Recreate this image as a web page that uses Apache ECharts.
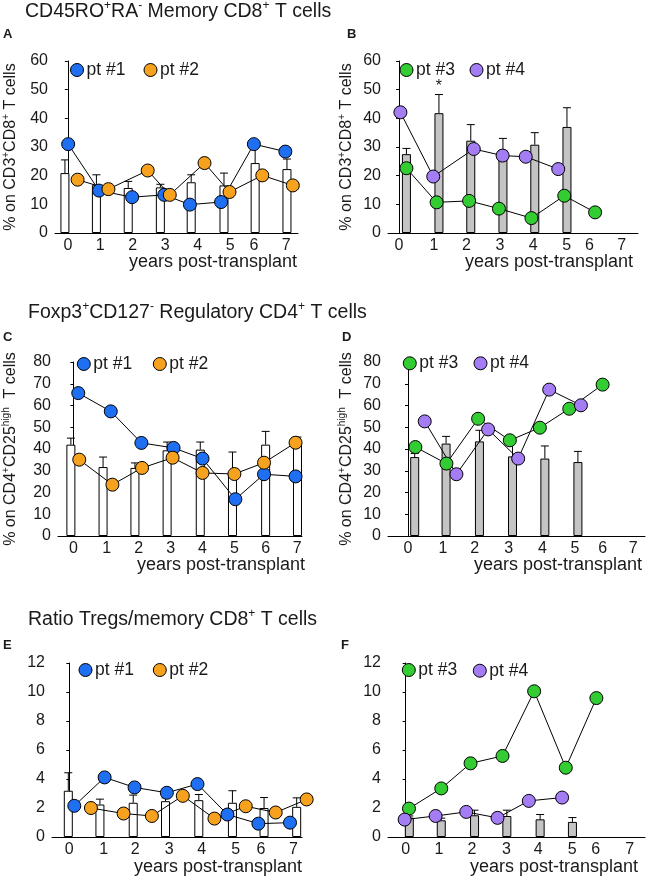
<!DOCTYPE html>
<html><head><meta charset="utf-8">
<script src="https://cdn.jsdelivr.net/npm/echarts@6/dist/echarts.min.js"></script>
<style>html,body{margin:0;padding:0;background:#fff}#c{width:649px;height:883px}</style>
</head><body><div id="c"></div>
<script>
const yearLabels = ['0','1','2','3','4','5','6','7'];
const legendNames = ['pt #1','pt #2','pt #3','pt #4'];

// Panel A
const aLabelPos = [0,1,2,3,4,5,5.73,6.73];
const aBarX = [-0.09,0.88,1.86,2.85,3.80,4.81,5.77,6.75];
const aBarMean = [20.9,16.8,15.7,15.9,17.7,16.6,24.4,22.3];
const aBarErr = [25.5,20.3,18,17,20.3,20.9,30,25.8];
const aPt1X = [0.01,0.96,1.98,2.97,3.76,4.72,5.73,6.70];
const aPt1Y = [31.0,14.8,12.5,13.3,9.9,10.8,31.0,28.4];
const aPt2X = [0.30,1.25,2.46,3.14,4.21,4.98,5.99,6.93];
const aPt2Y = [18.6,15.3,21.8,13.3,24.4,14.3,20.1,16.6];

// Panel B
const bLabelPos = [0,1.04,2.01,3.01,4.0,5,5.68,6.64];
const bBarX = [0.22,1.19,2.14,3.10,4.05,5.01];
const bBarMean = [27.5,41.8,32.2,29.0,30.8,37.0];
const bBarErr = [29.5,48.3,37.8,33.0,35.0,43.7];
const bPt3X = [0.22,1.12,2.09,2.98,3.95,4.93,5.85];
const bPt3Y = [22.6,10.7,11.2,8.5,5.2,13.0,7.2];
const bPt4X = [0.04,1.02,2.23,3.09,3.78,4.75];
const bPt4Y = [42.1,19.7,29.3,27.0,26.6,22.3];
const bStarX = [1.19];
const bStarY = [51];

// Panel C
const cLabelPos = [0,1.03,2.03,3.02,4.01,5,5.97,6.95];
const cBarX = [-0.08,0.92,1.91,2.91,3.94,4.94,5.97,6.96];
const cBarMean = [42,31.7,31.3,39.4,39.7,29.4,42,42];
const cBarErr = [45,36.3,33.6,43.2,43.2,38.6,48.1,45.5];
const cPt1X = [0.15,1.16,2.11,3.11,4.01,5.03,5.92,6.90];
const cPt1Y = [65.7,57.3,42.8,40.5,35.6,16.9,28.4,27.4];
const cPt2X = [0.18,1.21,2.13,3.08,4.01,5.0,5.92,6.90];
const cPt2Y = [35.1,23.6,31.3,36.0,29.0,28.5,33.7,42.9];

// Panel D
const dLabelPos = [0,1.05,2.0,3.02,4.03,5,5.83,6.75];
const dBarX = [0.20,1.14,2.14,3.13,4.10,5.09];
const dBarMean = [36.3,42.5,43.5,36.6,35.6,34.0];
const dBarErr = [37.9,45.8,48.6,44,41.4,38.9];
const dPt3X = [0.22,1.15,2.10,3.05,3.95,4.83,5.83];
const dPt3Y = [40.9,33.3,53.9,44.0,49.8,58.5,69.6];
const dPt4X = [0.50,1.45,2.40,3.30,4.23,5.18];
const dPt4Y = [52.7,28.4,49.0,35.6,67.3,60.1];

// Panel E
const eLabelPos = [0,1.03,1.98,3.0,3.98,5,5.76,6.73];
const eBarX = [-0.03,0.92,1.92,2.89,3.89,4.90,5.85,6.83];
const eBarMean = [3.19,2.24,2.36,2.47,2.54,2.36,2.0,2.08];
const eBarErr = [4.43,2.61,2.89,2.7,2.93,3.19,2.72,2.70];
const ePt1X = [0.15,1.06,1.96,2.93,3.85,4.75,5.68,6.63];
const ePt1Y = [2.15,4.11,3.42,3.05,3.65,1.55,0.92,0.99];
const ePt2X = [0.65,1.63,2.48,3.41,4.36,5.30,6.20,7.13];
const ePt2Y = [2.0,1.62,1.45,2.84,1.27,2.12,1.69,2.59];

// Panel F
const fLabelPos = [0,1.0,1.99,3.03,3.98,5,5.71,6.73];
const fBarX = [0.11,1.07,2.07,3.04,4.04,5.01];
const fBarMean = [1.34,1.15,1.5,1.45,1.22,1.04];
const fBarErr = [1.45,1.3,1.85,1.85,1.55,1.34];
const fPt3X = [0.10,1.07,1.95,2.91,3.86,4.81,5.73];
const fPt3Y = [1.96,3.35,5.08,5.59,10.05,4.78,9.58];
const fPt4X = [-0.03,0.90,1.82,2.76,3.70,4.70];
const fPt4Y = [1.2,1.45,1.73,1.32,2.49,2.72];

const FONT = "'Liberation Sans', Arial, sans-serif";
const TXT = '#1a1a1a';
const COL = {'pt #1':'#1f6ff2','pt #2':'#f6a21e','pt #3':'#33cc33','pt #4':'#a47cf4'};
const WHITE = '#ffffff', GRAY = '#c4c4c4';

const zip = (a,b) => a.map((v,i)=>[v,b[i]]);

const panels = [
  {grid:{left:52,top:61,width:246,height:172}, x:[-0.396,7.09], y:[0,60,10], labelPos:aLabelPos, fill:WHITE,
   barX:aBarX, mean:aBarMean, err:aBarErr, pts:[['pt #1',aPt1X,aPt1Y],['pt #2',aPt2X,aPt2Y]],
   yname:'{n|% on CD3}{s|+}{n|CD8}{s|+}{n| T cells}', nameGap:34,
   leg:[[76.5,70],[150,70]]},
  {grid:{left:388,top:61,width:250,height:172}, x:[-0.33,7.13], y:[0,60,10], labelPos:bLabelPos, fill:GRAY,
   barX:bBarX, mean:bBarMean, err:bBarErr, pts:[['pt #3',bPt3X,bPt3Y],['pt #4',bPt4X,bPt4Y]],
   yname:'{n|% on CD3}{s|+}{n|CD8}{s|+}{n| T cells}', nameGap:31,
   leg:[[406,70],[476,70]], star:true},
  {grid:{left:55,top:362,width:247,height:174}, x:[-0.48,7.10], y:[0,80,10], labelPos:cLabelPos, fill:WHITE,
   barX:cBarX, mean:cBarMean, err:cBarErr, pts:[['pt #1',cPt1X,cPt1Y],['pt #2',cPt2X,cPt2Y]],
   yname:'{n|% on CD4}{s|+}{n|CD25}{s|high}{n|  T cells}', nameGap:37,
   leg:[[83.3,364],[159.3,364]]},
  {grid:{left:388,top:362,width:257,height:174}, x:[-0.60,7.10], y:[0,80,10], labelPos:dLabelPos, fill:GRAY,
   barX:dBarX, mean:dBarMean, err:dBarErr, pts:[['pt #3',dPt3X,dPt3Y],['pt #4',dPt4X,dPt4Y]],
   yname:'{n|% on CD4}{s|+}{n|CD25}{s|high}{n|  T cells}', nameGap:31,
   leg:[[409.3,363.3],[480,363.3]]},
  {grid:{left:52,top:663,width:250,height:174}, x:[-0.52,6.99], y:[0,12,2], labelPos:eLabelPos, fill:WHITE,
   barX:eBarX, mean:eBarMean, err:eBarErr, pts:[['pt #1',ePt1X,ePt1Y],['pt #2',ePt2X,ePt2Y]],
   yname:'', nameGap:30,
   leg:[[85,670],[159.3,670]]},
  {grid:{left:388,top:663,width:257,height:174}, x:[-0.53,7.19], y:[0,12,2], labelPos:fLabelPos, fill:GRAY,
   barX:fBarX, mean:fBarMean, err:fBarErr, pts:[['pt #3',fPt3X,fPt3Y],['pt #4',fPt4X,fPt4Y]],
   yname:'', nameGap:30,
   leg:[[408.3,670],[479.3,670.7]]}
];

const supRich = {
  n:{fontSize:16, fontFamily:FONT, fontWeight:'normal', color:TXT, lineHeight:20},
  s:{fontSize:10, fontFamily:FONT, fontWeight:'normal', color:TXT, lineHeight:10, verticalAlign:'top'}
};

const grid=[], xAxis=[], yAxis=[], series=[], legend=[];
panels.forEach((p,i)=>{
  grid.push(Object.assign({containLabel:false}, p.grid));
  const pos = p.labelPos;
  xAxis.push({type:'value', gridIndex:i, min:p.x[0], max:p.x[1],
    axisLine:{show:true, onZero:false, lineStyle:{color:'#000', width:1}},
    axisTick:{show:false}, splitLine:{show:false},
    axisLabel:{show:true, customValues:pos, margin:5, fontSize:16, fontFamily:FONT, color:TXT,
      formatter:(v)=>{ let bi=0; pos.forEach((q,k)=>{ if(Math.abs(q-v)<Math.abs(pos[bi]-v)) bi=k; }); return yearLabels[bi]; }}
  });
  yAxis.push({type:'value', gridIndex:i, min:p.y[0], max:p.y[1], interval:p.y[2],
    axisLine:{show:true, lineStyle:{color:'#000', width:1}},
    axisTick:{show:true, length:3, lineStyle:{color:'#000'}}, splitLine:{show:false},
    axisLabel:{margin:7, fontSize:16, fontFamily:FONT, color:TXT},
    name:p.yname, nameLocation:'middle', nameRotate:90, nameGap:p.nameGap,
    nameTextStyle:{rich:supRich}
  });
  series.push({type:'bar', xAxisIndex:i, yAxisIndex:i, data:zip(p.barX,p.mean), barWidth:9, z:1, silent:true,
    itemStyle:{color:p.fill, borderColor:'#000', borderWidth:1}});
  series.push({type:'custom', xAxisIndex:i, yAxisIndex:i, z:2, silent:true,
    encode:{x:0, y:[1,2]},
    data:p.barX.map((x,k)=>[x,p.mean[k],p.err[k]]),
    renderItem:(params,api)=>{
      const a=api.coord([api.value(0),api.value(1)]), b=api.coord([api.value(0),api.value(2)]);
      return {type:'group', children:[
        {type:'line', shape:{x1:a[0],y1:a[1],x2:b[0],y2:b[1]}, style:{stroke:'#000',lineWidth:1}},
        {type:'line', shape:{x1:b[0]-4,y1:b[1],x2:b[0]+4,y2:b[1]}, style:{stroke:'#000',lineWidth:1}}
      ]};
    }});
  p.pts.forEach(([name,xs,ys])=>{
    series.push({type:'line', name, xAxisIndex:i, yAxisIndex:i, data:zip(xs,ys), z:3, silent:true,
      symbol:'circle', symbolSize:13, clip:false,
      lineStyle:{color:'#000', width:1},
      itemStyle:{color:COL[name], borderColor:'#000', borderWidth:1}});
  });
  if(p.star){
    series.push({type:'custom', xAxisIndex:i, yAxisIndex:i, z:4, silent:true,
      data:zip(bStarX,bStarY),
      renderItem:(params,api)=>{
        const c=api.coord([api.value(0),api.value(1)]);
        return {type:'text', x:c[0], y:c[1], style:{text:'*', fontSize:16, fontFamily:FONT, fill:TXT, align:'center', verticalAlign:'middle'}};
      }});
  }
  p.pts.forEach(([name],k)=>{
    const c=p.leg[k];
    legend.push({data:[name], left:c[0]-6.5, top:c[1]-9, padding:0, icon:'circle', itemWidth:13, itemHeight:13,
      selectedMode:false, textStyle:{fontSize:17.5, fontFamily:FONT, color:TXT, padding:[0,0,0,-2]},
      itemStyle:{borderColor:'#000', borderWidth:1}});
  });
});

const titleRich = {
  n:{fontSize:19.5, fontFamily:FONT, fontWeight:'normal', color:TXT, lineHeight:24},
  s:{fontSize:12, fontFamily:FONT, fontWeight:'normal', color:TXT, lineHeight:12, verticalAlign:'top'}
};
const t = (text, o)=>Object.assign({text, padding:0, textStyle:{fontWeight:'normal', rich:titleRich}}, o);
const letter = (text, left, top)=>({text, left, top, padding:0, textStyle:{fontSize:13, fontWeight:'bold', fontFamily:FONT, color:TXT}});
const xname = (right, top)=>({text:'years post-transplant', right, top, padding:0, textStyle:{fontSize:18, fontWeight:'normal', fontFamily:FONT, color:TXT}});

const title = [
  t('{n|CD45RO}{s|+}{n|RA}{s|-}{n| Memory CD8}{s|+}{n| T cells}', {left:25, top:0}),
  t('{n|Foxp3}{s|+}{n|CD127}{s|-}{n| Regulatory CD4}{s|+}{n| T cells}', {left:28, top:301}),
  t('{n|Ratio Tregs/memory CD8}{s|+}{n| T cells}', {left:28, top:608}),
  letter('A',3,28), letter('B',347,28), letter('C',3,331), letter('D',342,331), letter('E',3,639), letter('F',341,639),
  xname(649-297, 253.5), xname(649-633, 253.5), xname(649-305, 556), xname(649-642, 556), xname(649-302, 858), xname(649-638, 858)
];

const chart = echarts.init(document.getElementById('c'), null, {renderer:'canvas'});
chart.setOption({animation:false, backgroundColor:'#fff', title, legend, grid, xAxis, yAxis, series});
</script></body></html>
